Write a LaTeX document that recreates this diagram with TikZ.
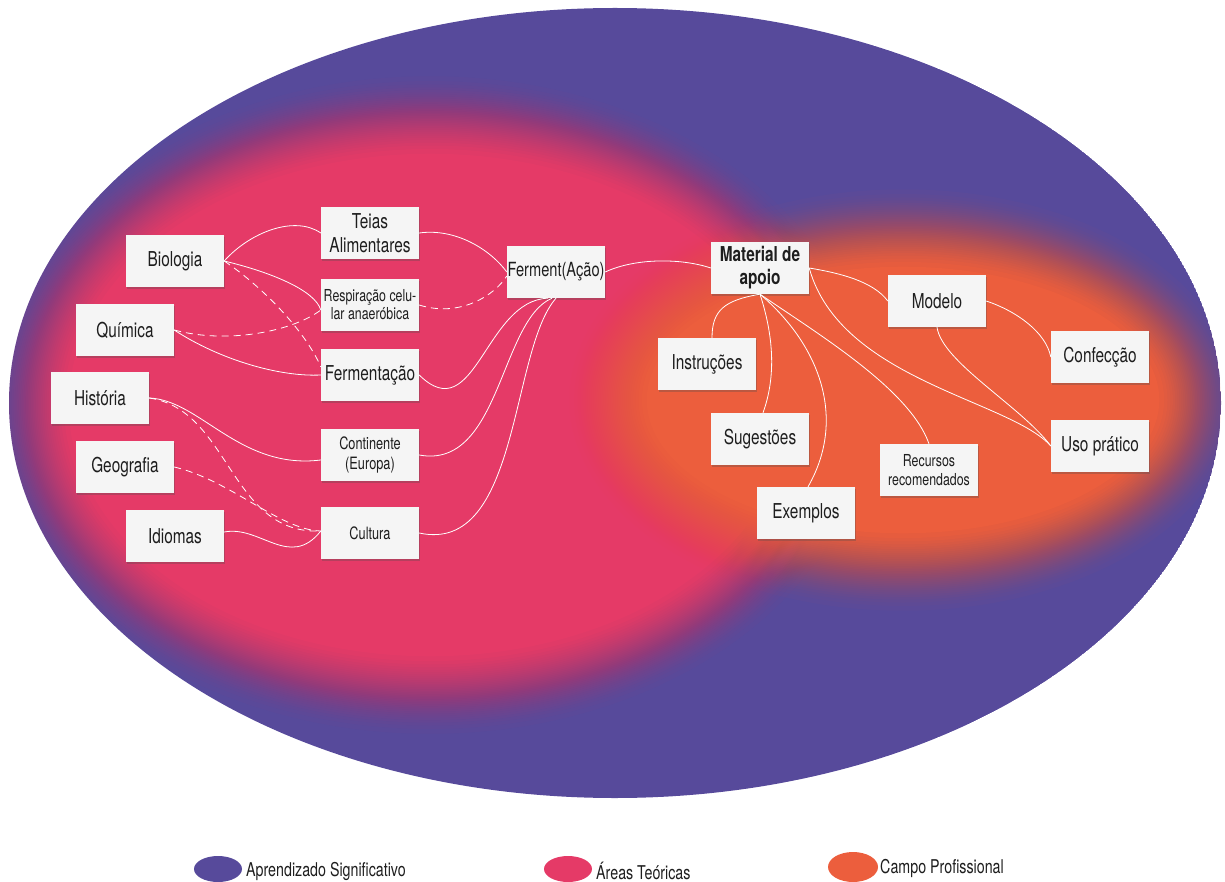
\documentclass[tikz,border=0pt]{standalone}
\usepackage{fontspec}
\setmainfont{TeX Gyre Heros}[FakeStretch=0.75]
\usetikzlibrary{shadows}
\definecolor{roxo}{HTML}{574A9B}
\definecolor{rosa}{HTML}{E53A67}
\definecolor{laranja}{HTML}{EC5E3D}
\definecolor{cinza}{HTML}{F5F5F5}
\definecolor{tinta}{HTML}{1E1E1E}
% soft edged blob: colour, cx, cy, rx, ry
\newcommand{\mancha}[5]{%
  \foreach \k in {1,...,36} {
    \pgfmathsetmacro{\s}{0.5-sin(asin(1-2*(\k-0.5)/36)/3)}
    \pgfmathsetmacro{\off}{45-90*\s}
    \pgfmathsetmacro{\op}{1/(37-\k)}
    \fill[#1,opacity=\op] (#2,#3) ellipse ({#4+\off} and {#5+\off});
  }}

\begin{document}
\begin{tikzpicture}[x=1pt,y=-1pt,
  conceito/.style={rectangle,fill=cinza,minimum width=98pt,minimum height=52pt,inner sep=0pt,align=center,text=tinta,
    font=\fontsize{20.5}{24}\selectfont,drop shadow={shadow xshift=1pt,shadow yshift=-2pt,opacity=.3,fill=black!70}},
  menor/.style={font=\fontsize{17}{20}\selectfont},
  miudo/.style={font=\fontsize{16.5}{18}\selectfont},
  liga/.style={draw=white,line width=.8pt},
  tracejada/.style={liga,dash pattern=on 7pt off 5pt},
  legenda/.style={anchor=west,inner sep=0pt,text=tinta,font=\fontsize{19}{20}\selectfont}]
\useasboundingbox (0,0) rectangle (1225,882);
% background regions
\begin{scope}
\clip (615,403) ellipse (606 and 395);
\fill[roxo] (615,403) ellipse (606 and 395);
\mancha{rosa}{430}{405}{400}{290}
\mancha{laranja}{903}{400}{295}{172}
\end{scope}
% theory side
\node[conceito] (bio) at (175,261) {Biologia};
\node[conceito] (quim) at (125,330) {Química};
\node[conceito] (hist) at (100,398) {História};
\node[conceito] (geo) at (125,467) {Geografia};
\node[conceito] (idi) at (175,536) {Idiomas};
\node[conceito] (teias) at (370,233) {Teias\\Alimentares};
\node[conceito,miudo] (resp) at (370,305) {Respiração celu-\\lar anaeróbica};
\node[conceito] (ferm) at (370,375) {Fermentação};
\node[conceito,menor] (cont) at (370,455) {Continente\\(Europa)};
\node[conceito,menor] (cult) at (370,533) {Cultura};
\node[conceito,font=\fontsize{19.5}{22}\selectfont] (fa) at (556,272) {Ferment(Ação)};
% professional side
\node[conceito,font=\fontsize{20.5}{23}\selectfont\bfseries] (mat) at (760,268) {Material de\\apoio};
\node[conceito] (instr) at (707,364) {Instruções};
\node[conceito] (sug) at (760,439) {Sugestões};
\node[conceito] (exem) at (806,513) {Exemplos};
\node[conceito,miudo,font=\fontsize{16.5}{19}\selectfont] (recu) at (929,470) {Recursos\\recomendados};
\node[conceito] (mod) at (937,301) {Modelo};
\node[conceito] (conf) at (1100,357) {Confecção};
\node[conceito] (uso) at (1100,446) {Uso prático};
% links, left
\draw[liga] (bio.east) .. controls +(26,-29) and +(-26,-18) .. (teias.west);
\draw[liga] (bio.east) .. controls +(46,11) and +(-6,-20) .. ([yshift=-5pt]resp.west);
\draw[tracejada] (bio.east) .. controls +(36,24) and +(-16,-37) .. ([yshift=-18pt]ferm.north west);
\draw[tracejada] (quim.east) .. controls +(56,15) and +(-26,20) .. ([yshift=-5pt]resp.west);
\draw[liga] (quim.east) .. controls +(46,30) and +(-41,2) .. (ferm.west);
\draw[liga] (hist.east) .. controls +(51,2) and +(-81,10) .. ([yshift=-5pt]cont.west);
\draw[tracejada] (hist.east) .. controls +(81,12) and +(-91,4) .. ([yshift=2pt]cult.west);
\draw[tracejada] (geo.east) .. controls +(56,13) and +(-41,-1) .. ([yshift=2pt]cult.west);
\draw[liga] ([yshift=4pt]idi.east) .. controls +(36,-7) and +(-31,39) .. ([yshift=2pt]cult.west);
\draw[liga] (teias.east) .. controls +(36,-5) and +(-17,-23) .. (fa.west);
\draw[tracejada] (resp.east) .. controls +(41,13) and +(-12,19) .. ([yshift=-4pt]fa.west);
\draw[liga] (ferm.east) .. controls +(56,55) and +(-63,2) .. ([xshift=-8pt]fa.south);
\draw[liga] (cont.east) .. controls +(81,15) and +(-52,22) .. ([xshift=-4pt]fa.south);
\draw[liga] (cult.east) .. controls +(101,22) and +(-46,52) .. (fa.south);
\draw[liga] (fa.east) .. controls +(30,-14) and +(-30,-10) .. (mat.west);
% links, right
\draw[liga] (mat.south) .. controls +(-35,6) and +(0,-28) .. ([xshift=5pt]instr.north);
\draw[liga] (mat.south) .. controls +(15,46) and +(12,-33) .. ([xshift=3pt]sug.north);
\draw[liga] (mat.south) .. controls +(60,51) and +(39,-68) .. ([xshift=2pt]exem.north);
\draw[liga] (mat.south) .. controls +(60,41) and +(-19,-54) .. (recu.north);
\draw[liga] (mat.east) .. controls +(31,112) and +(-41,-46) .. (uso.west);
\draw[liga] (mat.east) .. controls +(30,5) and +(-15,-20) .. (mod.west);
\draw[liga] (mod.east) .. controls +(30,10) and +(-5,-25) .. (conf.west);
\draw[liga] (mod.south) .. controls +(5,35) and +(-30,-40) .. (uso.west);
% legend
\fill[roxo] (218,869) ellipse (24 and 13);
\node[legenda] (lgroxo) at (246,871) {Aprendizado Significativo};
\fill[rosa] (568,869) ellipse (24 and 13);
\node[legenda] (lgrosa) at (596,871) {Áreas Teóricas};
\fill[laranja] (853,867) ellipse (25 and 15);
\node[legenda] (lglaranja) at (880,868) {Campo Profissional};
\end{tikzpicture}
\end{document}
